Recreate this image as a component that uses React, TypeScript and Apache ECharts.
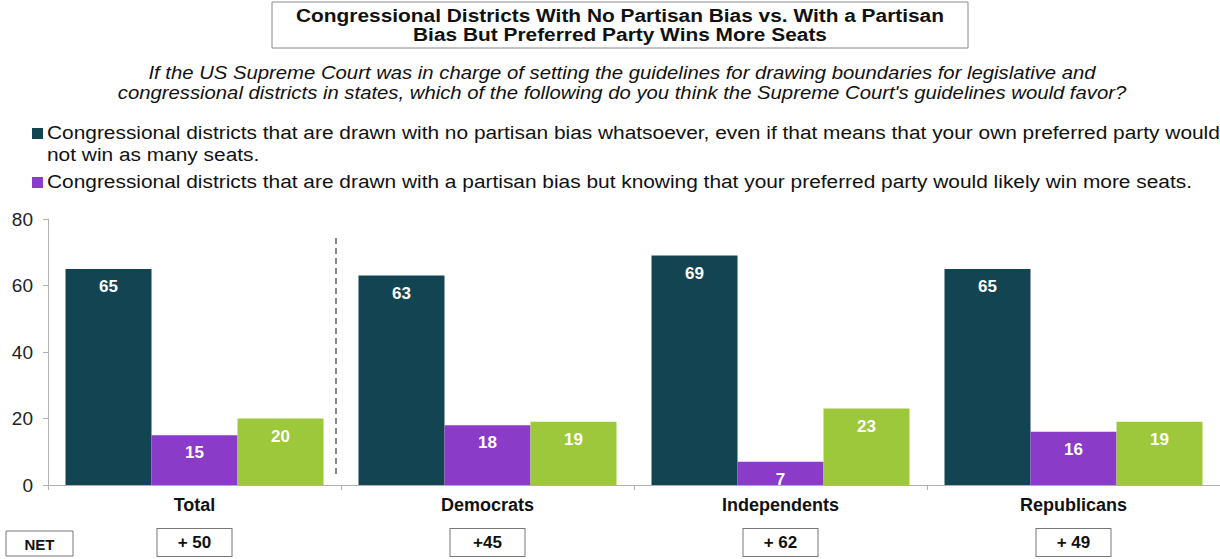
import React, { useEffect, useRef } from "react";
import * as echarts from "echarts";

const categories = ["Total", "Democrats", "Independents", "Republicans"];
const netLabels = ["+ 50", "+45", "+ 62", "+ 49"];
const noBias = [65, 63, 69, 65];
const partisanBias = [15, 18, 7, 16];
const other = [20, 19, 23, 19];
const yTicks = { min: 0, max: 80, interval: 20 };

const seriesNames = [
  "Congressional districts that are drawn with no partisan bias whatsoever, even if that means that your own preferred party would not win as many seats.",
  "Congressional districts that are drawn with a partisan bias but knowing that your preferred party would likely win more seats.",
  "Don't know",
];
const legendLines = [
  "Congressional districts that are drawn with no partisan bias whatsoever, even if that means that your own preferred party would\nnot win as many seats.",
  "Congressional districts that are drawn with a partisan bias but knowing that your preferred party would likely win more seats.",
];

const FONT = "Arial, 'Liberation Sans', sans-serif";
const colors = ["#134452", "#8a3bc8", "#9dc83b"];
const SX = 1.16;

export default function App() {
  const ref = useRef<HTMLDivElement>(null);
  useEffect(() => {
    if (!ref.current) return;
    const chart = echarts.init(ref.current, null, { renderer: "svg" });
    const labelStyle = {
      show: true,
      position: "insideTop",
      distance: 9,
      color: "#ffffff",
      fontFamily: FONT,
      fontWeight: "bold",
      fontSize: 17,
    };
    const mk = (i: number, data: number[]) => ({
      name: seriesNames[i],
      type: "bar",
      data,
      barWidth: 86,
      barGap: "0%",
      itemStyle: { color: colors[i] },
      label: labelStyle,
    });
    chart.setOption({
      animation: false,
      backgroundColor: "#ffffff",
      textStyle: { fontFamily: FONT },
      grid: { left: 48, top: 219, width: 1174, bottom: 74, containLabel: false },
      xAxis: [
        {
          type: "category",
          data: categories,
          axisLine: { lineStyle: { color: "#b0b0b0", width: 1 } },
          axisTick: { show: true, length: 5, lineStyle: { color: "#b0b0b0" } },
          axisLabel: { fontFamily: FONT, fontWeight: "bold", fontSize: 18, color: "#111", margin: 11 },
        },
        {
          type: "category",
          data: netLabels,
          position: "bottom",
          offset: 44,
          axisLine: { show: false },
          axisTick: { show: false },
          axisLabel: {
            margin: 0,
            fontFamily: FONT,
            fontWeight: "bold",
            fontSize: 17,
            color: "#111",
            backgroundColor: "#fff",
            borderColor: "#777",
            borderWidth: 1,
            width: 74,
            height: 27,
            lineHeight: 27,
            align: "center",
            verticalAlign: "top",
          },
        },
      ],
      yAxis: {
        type: "value",
        min: yTicks.min,
        max: yTicks.max,
        interval: yTicks.interval,
        splitLine: { show: false },
        axisLine: { show: true, lineStyle: { color: "#b0b0b0" } },
        axisTick: { show: true, length: 5, lineStyle: { color: "#b0b0b0" } },
        axisLabel: { fontFamily: FONT, fontSize: 19, color: "#222", margin: 15 },
      },
      series: [mk(0, noBias), mk(1, partisanBias), mk(2, other)],
      graphic: [
        {
          type: "rect",
          shape: { x: 272, y: 2, width: 696, height: 46 },
          style: { fill: "#fff", stroke: "#888", lineWidth: 1 },
        },
        {
          type: "text",
          x: 620,
          y: 25,
          scaleX: SX,
          style: {
            text: "Congressional Districts With No Partisan Bias vs. With a Partisan\nBias But Preferred Party Wins More Seats",
            align: "center",
            verticalAlign: "middle",
            fontFamily: FONT,
            fontWeight: "bold",
            fontSize: 18,
            lineHeight: 19,
            fill: "#111",
          },
        },
        {
          type: "text",
          x: 622,
          y: 83,
          scaleX: SX,
          style: {
            text: "If the US Supreme Court was in charge of setting the guidelines for drawing boundaries for legislative and\ncongressional districts in states, which of the following do you think the Supreme Court's guidelines would favor?",
            align: "center",
            verticalAlign: "middle",
            fontFamily: FONT,
            fontStyle: "italic",
            fontSize: 17.5,
            lineHeight: 20,
            fill: "#111",
          },
        },
        {
          type: "rect",
          shape: { x: 32, y: 128, width: 11, height: 11 },
          style: { fill: colors[0] },
        },
        {
          type: "text",
          x: 47,
          y: 122,
          scaleX: SX,
          style: {
            text: legendLines[0],
            align: "left",
            verticalAlign: "top",
            fontFamily: FONT,
            fontSize: 18,
            lineHeight: 22,
            fill: "#111",
          },
        },
        {
          type: "rect",
          shape: { x: 32, y: 177, width: 11, height: 11 },
          style: { fill: colors[1] },
        },
        {
          type: "text",
          x: 47,
          y: 171,
          scaleX: SX,
          style: {
            text: legendLines[1],
            align: "left",
            verticalAlign: "top",
            fontFamily: FONT,
            fontSize: 18,
            lineHeight: 22,
            fill: "#111",
          },
        },
        {
          type: "line",
          shape: { x1: 336, y1: 238, x2: 336, y2: 478 },
          style: { stroke: "#888", lineWidth: 2, lineDash: [6, 4] },
        },
        {
          type: "rect",
          shape: { x: 6, y: 531, width: 67, height: 25 },
          style: { fill: "#fff", stroke: "#777", lineWidth: 1 },
        },
        {
          type: "text",
          x: 39.5,
          y: 544,
          style: {
            text: "NET",
            align: "center",
            verticalAlign: "middle",
            fontFamily: FONT,
            fontWeight: "bold",
            fontSize: 15,
            fill: "#111",
          },
        },
      ],
    });
    return () => chart.dispose();
  }, []);
  return <div ref={ref} style={{ position: "absolute", left: 0, top: 0, width: 1220, height: 559 }} />;
}
